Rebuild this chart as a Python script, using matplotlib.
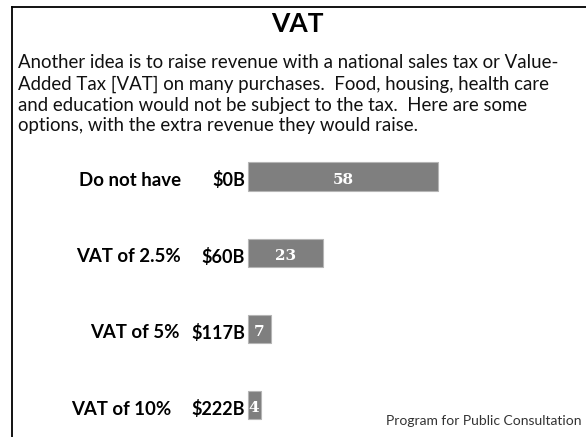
import matplotlib
matplotlib.use('Agg')
import matplotlib.pyplot as plt
import matplotlib.transforms as mtransforms
from matplotlib.lines import Line2D

# data
options = ['Do not have', 'VAT of 2.5%', 'VAT of 5%', 'VAT of 10%']
revenue = ['$0B', '$60B', '$117B', '$222B']
support = [58, 23, 7, 4]

title = 'VAT'
intro = ['Another idea is to raise revenue with a national sales tax or Value-',
         'Added Tax [VAT] on many purchases.  Food, housing, health care',
         'and education would not be subject to the tax.  Here are some',
         'options, with the extra revenue they would raise.']
source = 'Program for Public Consultation'

W, H = 586, 437
fig = plt.figure(figsize=(W / 100, H / 100), dpi=100)
fig.patch.set_facecolor('white')

# frame: only top and left edges are visible in the picture
fig.add_artist(Line2D([12 / W, 12 / W], [0, 1 - 7 / H], color='black', lw=1.3,
                      transform=fig.transFigure))
fig.add_artist(Line2D([12 / W, 1], [1 - 7 / H, 1 - 7 / H], color='black', lw=1.3,
                      transform=fig.transFigure))

fig.text(297 / W, 1 - 24 / H, title, ha='center', va='center',
         fontsize=19, fontweight='bold', family='Lato')
for k, line in enumerate(intro):
    fig.text(18 / W, 1 - (63 + 21 * k) / H, line, ha='left', va='center',
             fontsize=13.4, family='Lato', color='#111111')
fig.text(582 / W, 1 - 421 / H, source, ha='right', va='center',
         fontsize=10, family='Lato', color='#333333')

# bar axes covering the whole figure, 3.29 px per unit, bars start at x=247.5 px
ppu = 3.29
x0 = 247.5
ax = fig.add_axes([0, 0, 1, 1])
ax.set_xlim(-x0 / ppu, (W - x0) / ppu)
row0, step = 176.5, 76.25
ax.set_ylim((H - row0) / step, -row0 / step)
ax.axis('off')

ypos = list(range(len(options)))
ax.barh(ypos, support, height=28.4 / step, left=0, color='#7f7f7f',
        edgecolor='#b5b5b5', linewidth=0.8)

for y, v in zip(ypos, support):
    ax.text(v / 2, y + 3 / step, str(v), ha='center', va='center', color='white',
            fontsize=11, fontweight='bold', family='DejaVu Serif')

mixed = mtransforms.blended_transform_factory(fig.transFigure, ax.transData)
label_right = [181, 181, 180, 171]
for y, name, money, xr in zip(ypos, options, revenue, label_right):
    ax.text(xr / W, y + 4 / step, name, transform=mixed, ha='right', va='center',
            fontsize=13.4, fontweight='bold', family='Lato')
    ax.text(245 / W, y + 4 / step, money, transform=mixed, ha='right', va='center',
            fontsize=13, fontweight='bold', family='Lato')

fig.savefig('out.png', dpi=100)
